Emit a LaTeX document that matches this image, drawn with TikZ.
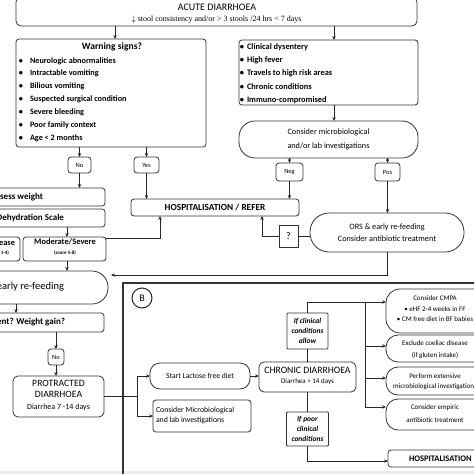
\documentclass[tikz,border=0pt]{standalone}
\usepackage{fontspec}
\setmainfont{Carlito}
\newfontfamily\seriffont{Liberation Serif}
\usetikzlibrary{arrows.meta,calc}
\newcommand\myfs[2]{\fontsize{#1}{#2}\selectfont}
\begin{document}
\begin{tikzpicture}[x=1pt,y=-1pt,
  box/.style={draw=black!80,line width=0.8pt,rounded corners=3pt,fill=white,inner sep=0pt,outer sep=0pt,align=center},
  stad/.style={box,rounded corners=16pt},
  rbox/.style={box,rounded corners=12pt},
  tx/.style={inner sep=0pt,outer sep=0pt,align=center},
  arr/.style={-{Stealth[length=4pt,width=3.4pt]},line width=0.8pt,black!85},
  ln/.style={line width=0.8pt,black!85},
  tag/.style={box,font=\myfs{6.5}{8}}
]
\useasboundingbox (0,0) rectangle (474,474);
\clip (0,0) rectangle (474,474);
\fill[white] (0,0) rectangle (474,474);
\fill[black!8] (0,471) rectangle (474,474);

% ---------- panel B frame ----------
\draw[line width=1.2pt,black!80] (123,283) rectangle (490,490);
\node[draw=black!85,line width=1pt,circle,minimum size=20pt,inner sep=0pt,font=\myfs{10}{12}] (Blab) at (142,298) {B};

% ---------- top ----------
\node[box,rounded corners=5pt,minimum width=401pt,minimum height=29pt] (acute) at (216.5,11.5) {};
\node[tx,font=\myfs{10}{11}] (acuteT) at (217,7) {ACUTE DIARRHOEA};
\node[tx,font=\seriffont\myfs{8}{10}] (acuteS) at (216.5,20) {$\downarrow$ stool consistency and/or > 3 stools /24 hrs < 7 days};

% warning signs
\node[box,minimum width=190pt,minimum height=108pt] (warn) at (111,93) {};
\node[tx,font=\bfseries\myfs{9.6}{11}] (warnT) at (112,47) {Warning signs?};
\foreach \i/\y/\t in {1/61/Neurologic abnormalities,2/73/Intractable vomiting,3/86/Bilious vomiting,4/99/Suspected surgical condition,5/112/Severe bleeding,6/125/Poor family context,7/138/Age < 2 months}{
  \node[tx,font=\bfseries\myfs{8.2}{9}] (wb\i) at (21,\y) {\textbullet};
  \node[tx,anchor=west,font=\bfseries\myfs{8.2}{9}] (w\i) at (30,\y) {\t};
}

% risk box
\node[box,minimum width=179pt,minimum height=65pt] (risk) at (328.5,72.5) {};
\foreach \i/\y/\t in {1/47/Clinical dysentery,2/60/High fever,3/73/Travels to high risk areas,4/87/Chronic conditions,5/100/Immuno-compromised}{
  \node[tx,font=\bfseries\myfs{8.4}{9}] (rb\i) at (242,\y) {\textbullet};
  \node[tx,anchor=west,font=\bfseries\myfs{8.4}{9}] (r\i) at (247,\y) {\t};
}

\node[stad,minimum width=179pt,minimum height=37pt,font=\myfs{8.2}{14}] (micro) at (328.5,139.5) {Consider microbiological\\and/or lab investigations};

\node[tag,minimum width=27pt,minimum height=18pt] (neg) at (289.5,172) {Neg};
\node[tag,minimum width=25pt,minimum height=18pt] (pos) at (387.5,172) {Pos};

\node[box,minimum width=168pt,minimum height=17pt,font=\bfseries\myfs{9.3}{10}] (hosp) at (215,207.5) {HOSPITALISATION / REFER};

\node[stad,rounded corners=19pt,minimum width=154pt,minimum height=39pt,font=\myfs{8.2}{11.5}] (ors) at (387,232.5) {ORS \& early re-feeding\\Consider antibiotic treatment};
\node[box,rounded corners=0pt,minimum width=19pt,minimum height=22pt,font=\myfs{10}{12}] (qbox) at (288.5,236) {?};

\node[tag,minimum width=23pt,minimum height=16pt] (no1) at (79.5,165) {No};
\node[tag,minimum width=25pt,minimum height=16pt] (yes1) at (146.5,165) {Yes};

% left column (clipped)
\node[box,minimum width=135pt,minimum height=18pt] (assess) at (37.5,197) {};
\node[tx,anchor=east,font=\bfseries\myfs{9}{10}] (assessT) at (43,197) {Assess weight};
\node[box,minimum width=135pt,minimum height=18pt] (dehyd) at (37.5,218) {};
\node[tx,anchor=east,font=\bfseries\myfs{9}{10}] (dehydT) at (64,218) {Dehydration Scale};
\node[box,minimum width=60pt,minimum height=24pt] (mild) at (-10,249) {};
\node[tx,anchor=east,font=\bfseries\myfs{8.4}{10}] (mildT) at (15,243) {Mild disease};
\node[tx,anchor=east,font=\bfseries\myfs{5}{6}] (mildS) at (9,253) {(score 1-4)};
\node[box,minimum width=83pt,minimum height=24pt] (modsev) at (64.5,249) {};
\node[tx,font=\bfseries\myfs{8.4}{10}] (modsevT) at (65,242) {Moderate/Severe};
\node[tx,font=\bfseries\myfs{5}{6}] (modsevS) at (65,253) {(score 5-8)};
\node[stad,minimum width=168pt,minimum height=33pt] (refeed) at (24,287.5) {};
\node[tx,anchor=east,font=\myfs{10.5}{12}] (refeedT) at (64,287) {ORS \& early re-feeding};
\node[box,minimum width=144pt,minimum height=19pt] (improve) at (32,322.5) {};
\node[tx,anchor=east,font=\bfseries\myfs{9}{10}] (improveT) at (65,322) {Improvement? Weight gain?};
\node[tag,minimum width=16pt,minimum height=16pt] (no2) at (56,357) {No};
\node[box,rounded corners=5pt,minimum width=91pt,minimum height=41pt] (protr) at (58.5,396.5) {};
\node[tx,font=\myfs{9.7}{11}] (protrA) at (58.5,383) {PROTRACTED};
\node[tx,font=\myfs{9.7}{11}] (protrB) at (58.5,394) {DIARRHOEA};
\node[tx,font=\myfs{8}{10}] (protrC) at (58.5,407) {Diarrhea 7 -14 days};

% ---------- panel B ----------
\node[box,rounded corners=10pt,minimum width=100pt,minimum height=26pt,font=\myfs{7.6}{9}] (lact) at (200,376) {Start Lactose free diet};
\node[box,minimum width=98pt,minimum height=32pt] (micro2) at (202,416) {};
\node[tx,anchor=west,align=left,font=\myfs{7.8}{10}] (micro2T) at (156,415) {Consider Microbiological\\and lab investigations};
\node[box,rounded corners=5pt,minimum width=97pt,minimum height=30pt] (chronic) at (307.5,377) {};
\node[tx,font=\myfs{9.7}{11}] (chronicA) at (307.5,370) {CHRONIC DIARRHOEA};
\node[tx,font=\myfs{7}{9}] (chronicB) at (307.5,382) {Diarrhea > 14 days};
\node[box,rounded corners=1pt,minimum width=41pt,minimum height=36pt,font=\bfseries\itshape\myfs{7.5}{10}] (allow) at (307.5,331) {If clinical\\conditions\\allow};
\node[box,rounded corners=1pt,minimum width=42pt,minimum height=34pt,font=\bfseries\itshape\myfs{7.5}{10}] (poor) at (307.5,429) {If poor\\clinical\\conditions};

\node[box,rounded corners=14pt,minimum width=104pt,minimum height=44pt] (cmpa) at (438,311) {};
\node[tx,font=\myfs{7}{9}] (cmpaA) at (435,298) {Consider CMPA};
\node[tx,font=\myfs{7}{9}] (cmpaB) at (435,309) {\textbullet\ eHF 2-4 weeks in FF};
\node[tx,font=\myfs{7}{9}] (cmpaC) at (435,319.5) {\textbullet\ CM free diet in BF babies};
\node[rbox,minimum width=104pt,minimum height=27pt] (coel) at (438,348.5) {};
\node[tx,font=\myfs{7}{9}] (coelA) at (435,343) {Exclude coeliac disease};
\node[tx,font=\myfs{7}{9}] (coelB) at (435,356) {(if gluten intake)};
\node[rbox,minimum width=104pt,minimum height=28pt] (perf) at (438,381) {};
\node[tx,font=\myfs{7}{9}] (perfA) at (435,376) {Perform extensive};
\node[tx,font=\myfs{7}{9}] (perfB) at (435,387) {microbiological investigations};
\node[rbox,minimum width=104pt,minimum height=31pt] (emp) at (438,414.5) {};
\node[tx,font=\myfs{7}{9}] (empA) at (435,408) {Consider empiric};
\node[tx,font=\myfs{7}{9}] (empB) at (435,420) {antibiotic treatment};
\node[box,minimum width=102pt,minimum height=17pt] (hosp2) at (439,458.5) {};
\node[tx,anchor=west,font=\bfseries\myfs{8.5}{10}] (hosp2T) at (409,458.5) {HOSPITALISATION};

% ---------- connectors ----------
\draw[arr] (115,0 |- acute.south) -- (115,0 |- warn.north);
\draw[arr] (334,0 |- acute.south) -- (334,0 |- risk.north);
\draw[arr] (334,0 |- risk.south) -- (334,0 |- micro.north);
\draw[arr] (neg.north |- micro.south) -- (neg.north);
\draw[arr] (pos.north |- micro.south) -- (pos.north);
\draw[arr] (neg.south) -- (neg.south |- hosp.north);
\draw[arr] (pos.south) -- (pos.south |- ors.north);
\draw[ln] (qbox.east) -- (qbox.east -| ors.west);
\draw[arr] (qbox.west) -| (262,0 |- hosp.south);
\coordinate (rfin) at (111,275);
\draw[arr] (ors.south) |- (rfin);

\draw[arr] (no1.north |- warn.south) -- (no1.north);
\draw[arr] (yes1.north |- warn.south) -- (yes1.north);
\draw[arr] (no1.south) -- (no1.south |- assess.north);
\draw[arr] (yes1.south) -- (yes1.south |- hosp.north);
\draw[arr] (67,0 |- dehyd.south) -- (67,0 |- modsev.north);
\draw[arr] (modsev.east |- 0,238.5) -| (160,0 |- hosp.south);
\draw[arr] (67,0 |- modsev.south) -- (67,0 |- refeed.north);
\draw[arr] (16,0 |- refeed.south) -- (16,0 |- improve.north);
\draw[arr] (no2.north |- improve.south) -- (no2.north);
\draw[arr] (no2.south) -- (no2.south |- protr.north);

\coordinate (pj) at (137,396.5);
\draw[ln] (protr.east) -- (pj);
\draw[arr] (pj) |- (lact.west);
\draw[arr] (pj) |- (micro2.west);
\draw[arr] (lact.east) -- (lact.east -| chronic.west);

\draw[ln] (chronic.north) -- (allow.south);
\coordinate (cj) at (365,302);
\draw[arr] (allow.north) |- (cmpa.west |- cj);
\draw[ln] (cj) -- (365,407);
\draw[arr] (365,346) -- (coel.west |- 0,346);
\draw[arr] (365,378) -- (perf.west |- 0,378);
\draw[arr] (365,407) -- (emp.west |- 0,407);
\draw[ln] (chronic.south) -- (poor.north);
\draw[arr] (poor.south) |- (hosp2.west |- 0,461);
\end{tikzpicture}
\end{document}
